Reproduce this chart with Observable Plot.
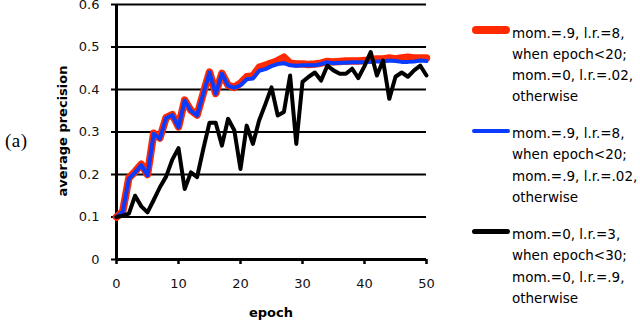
<!DOCTYPE html>
<html>
<head>
<meta charset="utf-8">
<script src="https://cdn.jsdelivr.net/npm/d3@7"></script>
<script src="https://cdn.jsdelivr.net/npm/@observablehq/plot@0.6"></script>
<style>
  html, body { margin: 0; padding: 0; background: #fff; }
  #wrap { position: relative; width: 640px; height: 320px; overflow: hidden; font-family: "DejaVu Sans", sans-serif; }
  #chart { position: absolute; left: 0; top: 0; }
  .tag { position: absolute; left: 5px; top: 130px; font-family: "Liberation Serif", serif; font-size: 19px; letter-spacing: 0.5px; }
  .ytitle { position: absolute; left: 62px; top: 131px; transform: translate(-50%, -50%) rotate(-90deg); font-weight: bold; font-size: 13px; white-space: nowrap; color: #000; }
  .xtitle { position: absolute; left: 271px; top: 312px; transform: translate(-50%, -50%); font-weight: bold; font-size: 13px; white-space: nowrap; color: #000; }
  .block { position: absolute; left: 512px; font-size: 13.5px; line-height: 21.3px; color: #000; white-space: nowrap; }
  .sw { position: absolute; left: -40px; width: 38px; border-radius: 5px; }
</style>
</head>
<body>
<div id="wrap">
  <div id="chart"></div>
  <div class="tag">(a)</div>
  <div class="ytitle" id="ytitle"></div>
  <div class="xtitle" id="xtitle"></div>
  <div id="legend"></div>
</div>
<script>
const epochs = [0,1,2,3,4,5,6,7,8,9,10,11,12,13,14,15,16,17,18,19,20,21,22,23,24,25,26,27,28,29,30,31,32,33,34,35,36,37,38,39,40,41,42,43,44,45,46,47,48,49,50];

const redValues = [0.100,0.113,0.192,0.207,0.224,0.200,0.297,0.286,0.334,0.341,0.312,0.375,0.351,0.340,0.391,0.441,0.391,0.438,0.410,0.405,0.415,0.430,0.432,0.452,0.457,0.462,0.468,0.476,0.462,0.460,0.460,0.459,0.460,0.462,0.466,0.465,0.466,0.467,0.467,0.467,0.468,0.470,0.472,0.472,0.474,0.472,0.474,0.476,0.474,0.474,0.474];

const blueValues = [0.100,0.112,0.190,0.205,0.222,0.198,0.296,0.284,0.333,0.340,0.311,0.374,0.350,0.339,0.390,0.440,0.390,0.437,0.409,0.404,0.410,0.424,0.426,0.444,0.448,0.455,0.460,0.462,0.457,0.456,0.457,0.457,0.457,0.460,0.464,0.462,0.463,0.463,0.464,0.464,0.464,0.465,0.466,0.466,0.468,0.467,0.465,0.465,0.466,0.468,0.467];

const blackValues = [0.100,0.103,0.108,0.150,0.125,0.111,0.140,0.170,0.195,0.235,0.262,0.166,0.205,0.194,0.260,0.322,0.322,0.268,0.331,0.304,0.213,0.315,0.272,0.327,0.365,0.405,0.339,0.347,0.433,0.272,0.418,0.430,0.440,0.421,0.456,0.445,0.437,0.437,0.449,0.427,0.455,0.488,0.433,0.468,0.378,0.430,0.440,0.430,0.445,0.456,0.433];

const seriesNames = ["red", "blue", "black"];
const seriesColors = ["#ff2a00", "#0a3cff", "#000000"];
const legendLines = [
  ["mom.=.9, l.r.=8,", "when epoch<20;", "mom.=0, l.r.=.02,", "otherwise"],
  ["mom.=.9, l.r.=8,", "when epoch<20;", "mom.=.9, l.r.=.02,", "otherwise"],
  ["mom.=0, l.r.=3,", "when epoch<30;", "mom.=0, l.r.=.9,", "otherwise"]
];

const xTicks = [0, 10, 20, 30, 40, 50];
const xTickLabels = ["0", "10", "20", "30", "40", "50"];
const yTicks = [0, 0.1, 0.2, 0.3, 0.4, 0.5, 0.6];
const yTickLabels = ["0", "0.1", "0.2", "0.3", "0.4", "0.5", "0.6"];
const xTitle = "epoch";
const yTitle = "average precision";

const toRows = (vals) => epochs.map((e, i) => ({epoch: e, ap: vals[i]}));
const redRows = toRows(redValues);
const blueRows = toRows(blueValues);
const blackRows = toRows(blackValues);

const chart = Plot.plot({
  width: 640,
  height: 320,
  marginLeft: 116,
  marginRight: 214,
  marginTop: 4,
  marginBottom: 61,
  style: {fontFamily: "DejaVu Sans", fontSize: "13px", color: "#111", background: "transparent", overflow: "visible"},
  x: {domain: [0, 50]},
  y: {domain: [0, 0.6]},
  marks: [
    Plot.ruleY(yTicks.slice(1), {stroke: "#000", strokeWidth: 2}),
    Plot.axisY({ticks: yTicks, tickFormat: d => yTickLabels[yTicks.indexOf(d)], tickSize: 5, tickPadding: 12, strokeWidth: 2, stroke: "#000", label: null}),
    Plot.axisX({ticks: xTicks, tickFormat: d => xTickLabels[xTicks.indexOf(d)], tickSize: 5, tickPadding: 14, strokeWidth: 2.5, stroke: "#000", label: null}),
    Plot.ruleX([0], {stroke: "#000", strokeWidth: 3}),
    Plot.ruleY([0], {stroke: "#000", strokeWidth: 3}),
    Plot.line(redRows, {x: "epoch", y: "ap", stroke: seriesColors[0], strokeWidth: 7.5}),
    Plot.line(blueRows, {x: "epoch", y: "ap", stroke: seriesColors[1], strokeWidth: 4}),
    Plot.line(blackRows, {x: "epoch", y: "ap", stroke: seriesColors[2], strokeWidth: 4})
  ]
});
document.getElementById("chart").appendChild(chart);
document.getElementById("ytitle").textContent = yTitle;
document.getElementById("xtitle").textContent = xTitle;

// legend
const legend = document.getElementById("legend");
const blockTops = [22.5, 123, 224];
const swatchHeights = [8, 4, 5];
seriesNames.forEach((name, i) => {
  const b = document.createElement("div");
  b.className = "block";
  b.style.top = blockTops[i] + "px";
  const sw = document.createElement("span");
  sw.className = "sw";
  sw.style.background = seriesColors[i];
  sw.style.height = swatchHeights[i] + "px";
  sw.style.top = (10.65 - 3 - swatchHeights[i] / 2) + "px";
  b.appendChild(sw);
  b.insertAdjacentHTML("beforeend", legendLines[i].map(t => t.replace(/</g, "&lt;")).join("<br>"));
  legend.appendChild(b);
});
</script>
</body>
</html>
